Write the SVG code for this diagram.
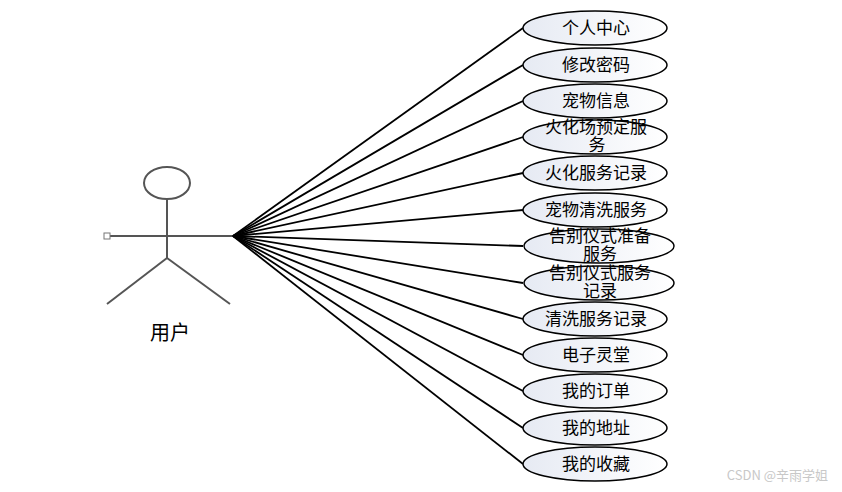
<svg xmlns="http://www.w3.org/2000/svg" width="842" height="492" viewBox="0 0 842 492">
<defs>
<linearGradient id="g" x1="0" y1="0" x2="1" y2="0">
<stop offset="0" stop-color="#e6eaf3"/><stop offset="1" stop-color="#ffffff"/>
</linearGradient>
<style>
.uc ellipse{fill:url(#g);stroke:#000;stroke-width:1.5}
.uc text{font-family:"Noto Sans CJK SC","Noto Sans CJK JP",sans-serif;font-size:17px;text-anchor:middle;fill:#000}
.con line{stroke:#000;stroke-width:1.8}
.actor{stroke:#555;stroke-width:2;fill:none}
</style>
</defs>
<rect width="842" height="492" fill="#fff"/>
<g id="actor">
<ellipse class="actor" cx="167" cy="183" rx="23" ry="16"/>
<line class="actor" x1="167" y1="199" x2="167" y2="258"/>
<line class="actor" x1="108" y1="236" x2="233" y2="236"/>
<line class="actor" x1="167" y1="258" x2="107" y2="304"/>
<line class="actor" x1="167" y1="258" x2="230" y2="304"/>
<rect x="104" y="233" width="6" height="6" fill="#fff" stroke="#777" stroke-width="1"/>
<text x="170" y="340" font-family="'Noto Sans CJK SC',sans-serif" font-size="20" text-anchor="middle">用户</text>
</g>
<g class="con">
<line x1="233" y1="236" x2="523" y2="28"/>
<line x1="233" y1="236" x2="523" y2="65"/>
<line x1="233" y1="236" x2="523" y2="101"/>
<line x1="233" y1="236" x2="523" y2="137"/>
<line x1="233" y1="236" x2="523" y2="173"/>
<line x1="233" y1="236" x2="523" y2="210"/>
<line x1="233" y1="236" x2="523" y2="246"/>
<line x1="233" y1="236" x2="523" y2="283"/>
<line x1="233" y1="236" x2="523" y2="319"/>
<line x1="233" y1="236" x2="523" y2="355"/>
<line x1="233" y1="236" x2="523" y2="391"/>
<line x1="233" y1="236" x2="523" y2="428"/>
<line x1="233" y1="236" x2="523" y2="464"/>
</g>
<g class="uc">
<g id="uc1"><ellipse cx="595" cy="28" rx="72" ry="17"/><text x="596" y="34">个人中心</text></g>
<g id="uc2"><ellipse cx="595" cy="65" rx="72" ry="17"/><text x="596" y="71">修改密码</text></g>
<g id="uc3"><ellipse cx="595" cy="101" rx="72" ry="17"/><text x="596" y="107">宠物信息</text></g>
<g id="uc4"><ellipse cx="595" cy="137" rx="72" ry="17"/><text x="596" y="133">火化场预定服</text><text x="597" y="151">务</text></g>
<g id="uc5"><ellipse cx="595" cy="173" rx="72" ry="17"/><text x="596" y="179">火化服务记录</text></g>
<g id="uc6"><ellipse cx="595" cy="210" rx="72" ry="17"/><text x="596" y="216">宠物清洗服务</text></g>
<g id="uc7"><ellipse cx="599" cy="246" rx="75" ry="17"/><text x="600" y="242">告别仪式准备</text><text x="600" y="260">服务</text></g>
<g id="uc8"><ellipse cx="599" cy="283" rx="75" ry="17"/><text x="600" y="279">告别仪式服务</text><text x="600" y="297">记录</text></g>
<g id="uc9"><ellipse cx="595" cy="319" rx="72" ry="17"/><text x="596" y="325">清洗服务记录</text></g>
<g id="uc10"><ellipse cx="595" cy="355" rx="72" ry="17"/><text x="596" y="361">电子灵堂</text></g>
<g id="uc11"><ellipse cx="595" cy="391" rx="72" ry="17"/><text x="596" y="397">我的订单</text></g>
<g id="uc12"><ellipse cx="595" cy="428" rx="72" ry="17"/><text x="596" y="434">我的地址</text></g>
<g id="uc13"><ellipse cx="595" cy="464" rx="72" ry="17"/><text x="596" y="470">我的收藏</text></g>
</g>
<text x="828" y="480" font-family="'Noto Sans CJK SC',sans-serif" font-size="13" fill="#c8c8c8" text-anchor="end">CSDN @辛雨学姐</text>
</svg>
